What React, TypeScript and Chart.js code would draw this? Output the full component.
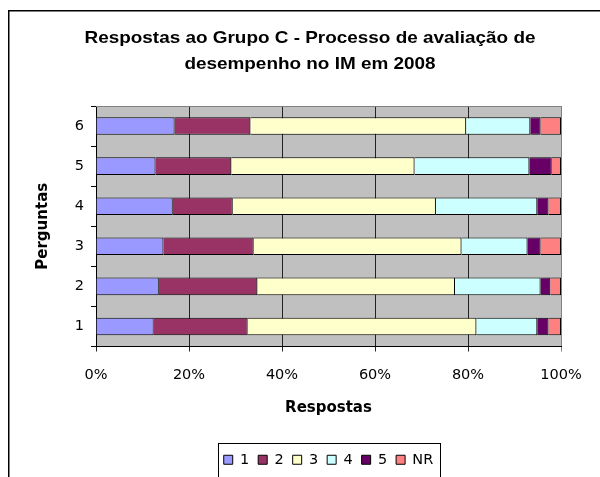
import React, { useEffect, useRef } from 'react';
import { Chart, registerables } from 'chart.js';

Chart.register(...registerables);

const questions = ['1', '2', '3', '4', '5', '6'];
const seriesNames = ['1', '2', '3', '4', '5', 'NR'];
const answers1 = [12.4, 13.5, 14.5, 16.5, 12.8, 16.9];
const answers2 = [20.2, 21.2, 19.4, 12.9, 16.3, 16.3];
const answers3 = [49.2, 42.5, 44.7, 43.7, 39.4, 46.4];
const answers4 = [13.1, 18.4, 14.2, 21.8, 24.7, 13.8];
const answers5 = [2.4, 2.1, 2.8, 2.4, 4.8, 2.2];
const answersNR = [2.7, 2.3, 4.4, 2.7, 2.0, 4.4];
const seriesColors = ['#9999FF', '#993366', '#FFFFCC', '#CCFFFF', '#660066', '#FF8080'];
const titleLines = ['Respostas ao Grupo C - Processo de avaliação de', 'desempenho no IM em 2008'];
const xAxisTitle = 'Respostas';
const yAxisTitle = 'Perguntas';

const FONT = '"DejaVu Sans", sans-serif';
const TITLE_FONT = 'bold 16.5px "Liberation Sans", Arial, sans-serif';

const decorPlugin = {
  id: 'decor',
  beforeDraw(chart: any) {
    const { ctx, chartArea } = chart;
    ctx.save();
    ctx.fillStyle = '#FFFFFF';
    ctx.fillRect(0, 0, chart.width, chart.height);
    ctx.fillStyle = '#C0C0C0';
    ctx.fillRect(chartArea.left, chartArea.top, chartArea.right - chartArea.left, chartArea.bottom - chartArea.top);
    ctx.restore();
  },
  beforeDatasetsDraw(chart: any) {
    const { ctx, chartArea } = chart;
    ctx.save();
    ctx.strokeStyle = '#808080';
    ctx.lineWidth = 1;
    ctx.beginPath();
    ctx.moveTo(chartArea.left, Math.floor(chartArea.top) + 0.5);
    ctx.lineTo(chartArea.right + 1, Math.floor(chartArea.top) + 0.5);
    ctx.stroke();
    ctx.restore();
  },
  afterDraw(chart: any) {
    const { ctx } = chart;
    ctx.save();
    // chart frame
    ctx.strokeStyle = '#000000';
    ctx.lineWidth = 1.5;
    ctx.beginPath();
    ctx.moveTo(8.75, chart.height + 2);
    ctx.lineTo(8.75, 10.75);
    ctx.lineTo(chart.width + 2, 10.75);
    ctx.stroke();
    // title (Arial-like, slightly stretched horizontally as in the original)
    ctx.fillStyle = '#000000';
    ctx.font = TITLE_FONT;
    ctx.textAlign = 'center';
    ctx.textBaseline = 'alphabetic';
    const w0 = ctx.measureText(titleLines[0]).width;
    const sx = w0 > 0 ? 451 / w0 : 1;
    ctx.translate(310, 0);
    ctx.scale(sx, 1);
    ctx.fillText(titleLines[0], 0, 43);
    ctx.fillText(titleLines[1], 0, 68.5);
    ctx.setTransform(1, 0, 0, 1, 0, 0);
    // legend frame
    const lg = chart.legend;
    const hb = lg.legendHitBoxes;
    if (hb && hb.length) {
      const last = hb[hb.length - 1];
      const l = Math.round(hb[0].left - 6) + 0.5;
      const r = Math.round(last.left + last.width + 7) + 0.5;
      const t = Math.floor(lg.top) + 0.5;
      ctx.strokeStyle = '#000000';
      ctx.lineWidth = 1;
      ctx.strokeRect(l, t, r - l, 100);
    }
    ctx.restore();
  },
};

export default function App() {
  const ref = useRef<HTMLCanvasElement | null>(null);

  useEffect(() => {
    if (!ref.current) return;
    const values = [answers1, answers2, answers3, answers4, answers5, answersNR];
    const chart = new Chart(ref.current, {
      type: 'bar',
      data: {
        labels: questions,
        datasets: seriesNames.map((name, i) => ({
          label: name,
          data: values[i],
          backgroundColor: seriesColors[i],
          borderColor: '#000000',
          borderWidth: 1,
          borderSkipped: 'start',
          barPercentage: 0.44,
          categoryPercentage: 1,
        })),
      },
      options: {
        indexAxis: 'y',
        responsive: false,
        animation: false,
        events: [],
        layout: { padding: { left: 0, right: 39, top: 106, bottom: 0 } },
        plugins: {
          title: { display: false },
          tooltip: { enabled: false },
          legend: {
            display: true,
            position: 'bottom',
            fullSize: false,
            labels: {
              boxWidth: 9,
              boxHeight: 9,
              padding: 9,
              color: '#000000',
              font: { family: FONT, size: 14.5 },
            },
          },
        },
        scales: {
          x: {
            type: 'linear',
            stacked: true,
            min: 0,
            max: 100,
            afterFit(scale: any) { scale.height = 97; },
            ticks: {
              stepSize: 20,
              padding: 15,
              color: '#000000',
              font: { family: FONT, size: 14.5 },
              callback: (v: any) => v + '%',
            },
            grid: {
              color: (c: any) => (c.tick && c.tick.value === 100 ? '#808080' : '#222222'),
              tickLength: 5,
              lineWidth: 1,
            },
            border: { color: '#000000', width: 1 },
            title: {
              display: true,
              text: xAxisTitle,
              color: '#000000',
              font: { family: FONT, size: 15, weight: 'bold' },
              padding: { top: 0, bottom: 26 },
            },
          },
          y: {
            type: 'category',
            stacked: true,
            reverse: true,
            afterFit(scale: any) { scale.width = 96; },
            ticks: {
              padding: 7,
              color: '#000000',
              font: { family: FONT, size: 14.5 },
            },
            grid: {
              offset: true,
              drawOnChartArea: false,
              tickLength: 5,
              color: '#000000',
            },
            border: { color: '#000000', width: 1 },
            title: {
              display: true,
              text: yAxisTitle,
              color: '#000000',
              font: { family: FONT, size: 15, weight: 'bold' },
              padding: { top: 34, bottom: 0 },
            },
          },
        },
      },
      plugins: [decorPlugin],
    } as any);
    return () => chart.destroy();
  }, []);

  return (
    <div style={{ position: 'fixed', left: 0, top: 0, width: 600, height: 477, background: '#ffffff' }}>
      <canvas ref={ref} width={600} height={477} style={{ width: 600, height: 477, display: 'block' }} />
    </div>
  );
}
